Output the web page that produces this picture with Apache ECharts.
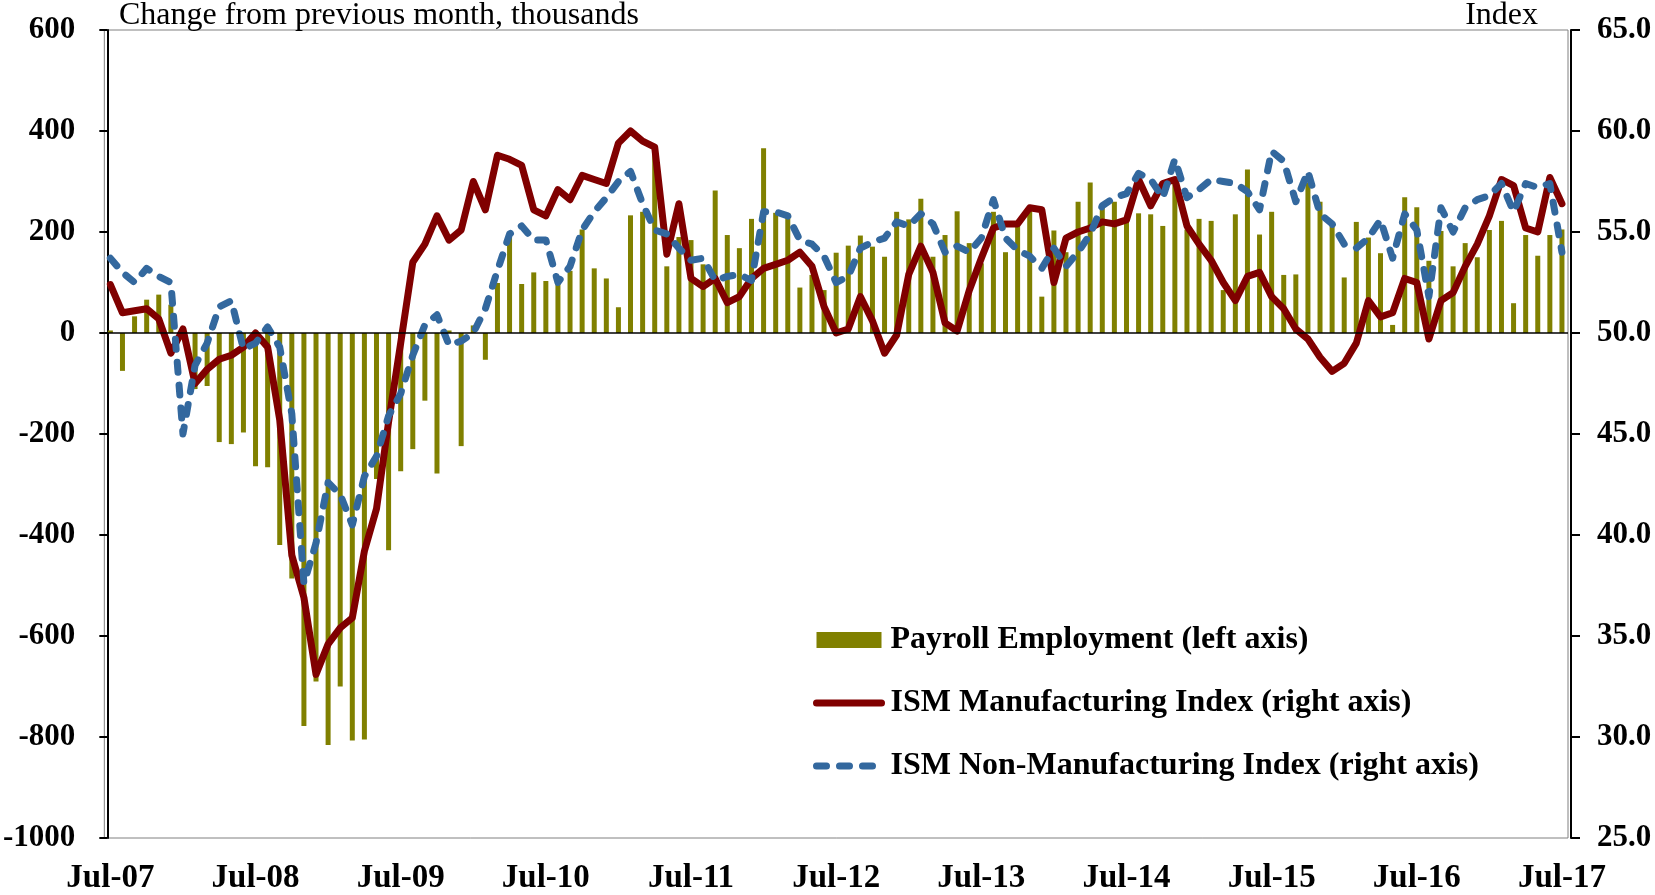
<!DOCTYPE html>
<html>
<head>
<meta charset="utf-8">
<title>Payroll Employment and ISM Indexes</title>
<script src="https://cdn.jsdelivr.net/npm/echarts@6/dist/echarts.min.js"></script>
<style>
  html, body { margin: 0; padding: 0; background: #ffffff; }
  #chart { width: 1655px; height: 895px; }
</style>
</head>
<body>
<div id="chart"></div>
<script>
// monthly, Jul-07 .. Jul-17
const monthNames = ['Jan', 'Feb', 'Mar', 'Apr', 'May', 'Jun', 'Jul', 'Aug', 'Sep', 'Oct', 'Nov', 'Dec'];
const startMonth = 6;   // July
const startYear = 7;    // 2007
const monthCount = 121;

// Payroll employment, change from previous month, thousands
const payroll = [
  5, -75, 33, 66, 76, 56, 10, -111, -105, -216, -220, -197,
  -264, -266, -420, -486, -778, -690, -816, -700, -807, -805, -289, -430,
  -274, -230, -134, -278, 5, -224, 15, -53, 99, 192, 97, 120,
  103, 113, 123, 205, 128, 108, 51, 233, 240, 353, 132, 190,
  184, 136, 282, 194, 168, 226, 366, 238, 237, 90, 115, 85,
  159, 173, 193, 171, 151, 240, 225, 266, 151, 194, 241, 178,
  138, 240, 160, 212, 243, 72, 203, 160, 260, 298, 250, 260,
  227, 237, 235, 212, 296, 205, 226, 222, 85, 235, 324, 195,
  240, 115, 116, 298, 260, 217, 110, 220, 189, 158, 16, 269,
  249, 143, 202, 132, 178, 150, 204, 222, 59, 194, 153, 194,
  205
];

// ISM Manufacturing Index
const ismManufacturing = [
  52.4, 51.0, 51.1, 51.2, 50.7, 49.0, 50.2, 47.5, 48.2, 48.7, 48.9, 49.3,
  50.0, 49.3, 45.7, 39.0, 36.9, 33.1, 34.6, 35.4, 35.9, 39.2, 41.3, 45.6,
  49.5, 53.5, 54.4, 55.8, 54.6, 55.1, 57.5, 56.1, 58.8, 58.6, 58.3, 56.1,
  55.8, 57.1, 56.6, 57.8, 57.6, 57.4, 59.4, 60.0, 59.5, 59.2, 53.9, 56.4,
  52.7, 52.3, 52.7, 51.5, 51.8, 52.7, 53.2, 53.4, 53.6, 54.0, 53.3, 51.3,
  50.0, 50.2, 51.8, 50.6, 49.0, 49.9, 52.9, 54.3, 53.0, 50.5, 50.1, 52.1,
  53.7, 55.2, 55.4, 55.4, 56.2, 56.1, 52.5, 54.7, 55.0, 55.2, 55.5, 55.4,
  55.6, 57.6, 56.3, 57.4, 57.6, 55.3, 54.4, 53.6, 52.5, 51.6, 52.8, 53.0,
  51.8, 51.2, 50.2, 49.7, 48.8, 48.1, 48.5, 49.5, 51.6, 50.8, 51.0, 52.7,
  52.5, 49.7, 51.6, 52.0, 53.3, 54.4, 55.8, 57.6, 57.3, 55.2, 55.0, 57.7,
  56.4
];

// ISM Non-Manufacturing Index
const ismNonManufacturing = [
  53.7, 53.0, 52.5, 53.2, 52.8, 52.5, 45.0, 48.4, 49.5, 51.3, 51.6, 49.2,
  49.5, 50.3, 49.3, 46.0, 37.6, 39.6, 42.6, 42.0, 40.5, 42.9, 43.9, 45.9,
  47.0, 48.9, 50.4, 50.9, 49.4, 49.6, 50.0, 51.2, 53.1, 54.9, 55.3, 54.6,
  54.6, 52.5, 53.3, 55.1, 56.0, 56.7, 57.5, 58.0, 56.4, 55.1, 54.9, 54.2,
  53.6, 53.7, 52.6, 52.8, 52.9, 52.6, 56.0, 56.0, 55.8, 54.6, 54.4, 53.8,
  52.5, 52.8, 54.2, 54.5, 54.7, 55.5, 55.3, 55.9, 55.4, 54.0, 54.3, 54.0,
  54.7, 56.6, 54.7, 54.1, 53.8, 53.2, 54.2, 53.3, 54.0, 54.9, 56.3, 56.7,
  56.9, 57.9, 57.6, 56.7, 58.6, 56.7, 57.1, 57.6, 57.5, 57.4, 57.0, 56.1,
  59.0, 58.5, 56.5, 58.0, 55.9, 55.4, 54.4, 54.2, 54.7, 55.6, 53.7, 55.9,
  55.1, 51.8, 56.2, 55.0, 56.2, 56.6, 56.8, 57.4, 56.0, 57.4, 57.2, 57.4,
  54.0
];

const categories = [];
for (let i = 0; i < monthCount; i++) {
  const m = (startMonth + i) % 12;
  const y = startYear + Math.floor((startMonth + i) / 12);
  categories.push(monthNames[m] + '-' + String(y).padStart(2, '0'));
}

const serif = '"Liberation Serif", "Times New Roman", Times, serif';
const axisLabelStyle = { color: '#000000', fontFamily: serif, fontWeight: 'bold', fontSize: 31 };
const mfgColor = '#800000';
const nonMfgColor = '#33689e';

const chart = echarts.init(document.getElementById('chart'), null, { renderer: 'canvas' });

const option = {
  backgroundColor: '#ffffff',
  animation: false,
  grid: {
    left: 100,
    right: 87,
    top: 30,
    bottom: 55,
    show: true,
    borderColor: '#808080',
    borderWidth: 1,
  },
  graphic: [
    {
      type: 'text',
      left: 119,
      top: 0,
      style: {
        text: 'Change from previous month, thousands',
        fontFamily: serif,
        fontSize: 32,
        fill: '#000000',
      },
    },
    {
      type: 'text',
      right: 117,
      top: 0,
      style: {
        text: 'Index',
        fontFamily: serif,
        fontSize: 32,
        fill: '#000000',
      },
    },
  ],
  legend: {
    orient: 'vertical',
    left: 808,
    top: 619,
    itemWidth: 65,
    itemHeight: 16,
    itemGap: 31,
    textStyle: {
      color: '#000000',
      fontFamily: serif,
      fontWeight: 'bold',
      fontSize: 32,
      padding: [0, 0, 0, 4],
    },
    data: [
      { name: 'Payroll Employment (left axis)', icon: 'rect' },
      {
        name: 'ISM Manufacturing Index (right axis)',
        lineStyle: { width: 7, cap: 'round' },
        itemStyle: { opacity: 0 },
      },
      {
        name: 'ISM Non-Manufacturing Index (right axis)',
        lineStyle: { width: 7, cap: 'round' },
        itemStyle: { opacity: 0 },
      },
    ],
  },
  xAxis: {
    type: 'category',
    data: categories,
    boundaryGap: true,
    axisLine: { show: false },
    axisTick: { show: false },
    splitLine: { show: false },
    axisLabel: Object.assign({}, axisLabelStyle, { fontSize: 33, interval: 11, margin: 24 }),
  },
  yAxis: [
    {
      type: 'value',
      offset: -3,
      min: -1000,
      max: 600,
      interval: 200,
      axisLine: { show: true, lineStyle: { color: '#000000', width: 2 } },
      axisTick: { show: true, length: 8, lineStyle: { color: '#000000', width: 2 } },
      splitLine: { show: false },
      axisLabel: Object.assign({}, axisLabelStyle, {
        margin: 32,
        formatter: (v) => String(v),
      }),
    },
    {
      type: 'value',
      position: 'right',
      offset: 3,
      min: 25,
      max: 65,
      interval: 5,
      axisLine: { show: true, lineStyle: { color: '#000000', width: 2 } },
      axisTick: { show: true, length: 9, lineStyle: { color: '#000000', width: 2 } },
      splitLine: { show: false },
      axisLabel: Object.assign({}, axisLabelStyle, {
        margin: 26,
        formatter: (v) => v.toFixed(1),
      }),
    },
  ],
  series: [
    {
      name: 'Payroll Employment (left axis)',
      type: 'bar',
      data: payroll,
      barWidth: 5,
      itemStyle: { color: '#808000' },
      markLine: {
        silent: true,
        symbol: 'none',
        label: { show: false },
        lineStyle: { color: '#000000', width: 1.5, type: 'solid' },
        data: [{ yAxis: 0 }],
      },
    },
    {
      name: 'ISM Manufacturing Index (right axis)',
      type: 'line',
      yAxisIndex: 1,
      data: ismManufacturing,
      symbol: 'none',
      lineStyle: { color: mfgColor, width: 7, cap: 'round', join: 'round' },
      itemStyle: { color: mfgColor },
    },
    {
      name: 'ISM Non-Manufacturing Index (right axis)',
      type: 'line',
      yAxisIndex: 1,
      data: ismNonManufacturing,
      symbol: 'none',
      lineStyle: { color: nonMfgColor, width: 7, type: [10, 13], cap: 'round', join: 'round' },
      itemStyle: { color: nonMfgColor },
    },
  ],
};

chart.setOption(option);
</script>
</body>
</html>
